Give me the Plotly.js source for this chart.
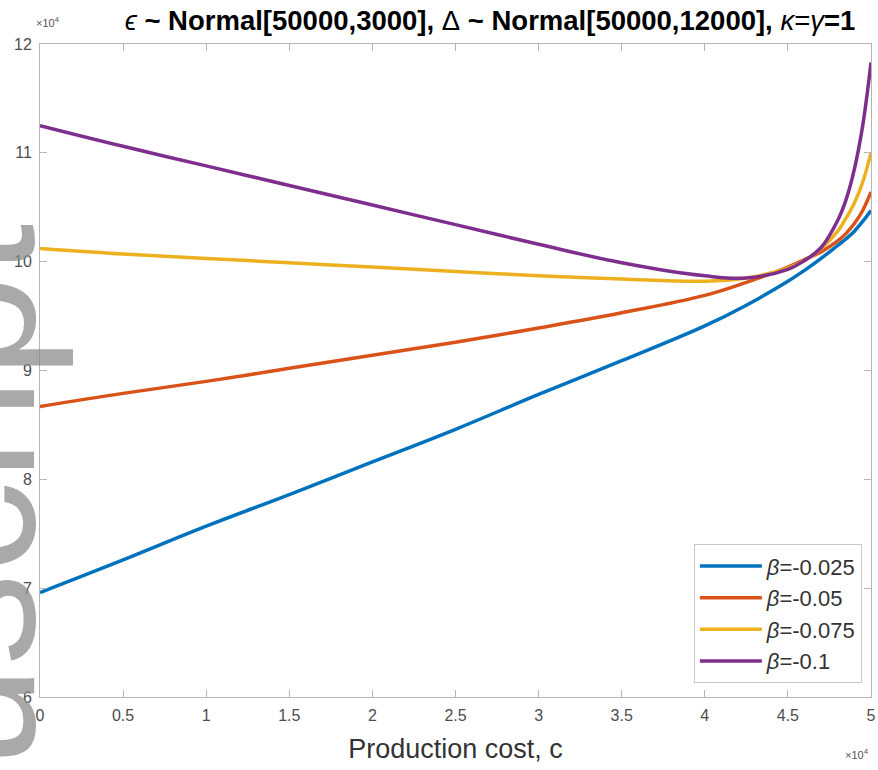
<!DOCTYPE html>
<html>
<head>
<meta charset="utf-8">
<script src="https://cdn.plot.ly/plotly-3.0.1.min.js"></script>
<style>html,body{margin:0;padding:0;background:#fff;}#chart{width:878px;height:770px;}</style>
</head>
<body>
<div id="chart"></div>
<script>
// Production cost c (in units of 10^4)
const cost = [0, 0.5, 1, 1.5, 2, 2.5, 3, 3.5, 4, 4.25, 4.5, 4.6, 4.7, 4.8, 4.85, 4.9, 4.95, 5];
// Values (in units of 10^4)
const beta025 = [6.96, 7.26, 7.57, 7.86, 8.16, 8.46, 8.78, 9.09, 9.41, 9.60, 9.82, 9.92, 10.03, 10.15, 10.21, 10.28, 10.37, 10.47];
const beta050 = [8.67, 8.79, 8.90, 9.02, 9.14, 9.26, 9.39, 9.53, 9.69, 9.81, 9.95, 10.02, 10.09, 10.19, 10.26, 10.35, 10.47, 10.64];
const beta075 = [10.12, 10.07, 10.03, 9.99, 9.95, 9.91, 9.87, 9.84, 9.82, 9.85, 9.94, 10.01, 10.12, 10.28, 10.40, 10.54, 10.73, 11.00];
const beta100 = [11.25, 11.06, 10.88, 10.70, 10.52, 10.34, 10.16, 9.99, 9.87, 9.85, 9.93, 10.01, 10.13, 10.38, 10.57, 10.85, 11.25, 11.83];
const seriesNames = ["<i>β</i>=-0.025", "<i>β</i>=-0.05", "<i>β</i>=-0.075", "<i>β</i>=-0.1"];
const xTickVals = [0, 0.5, 1, 1.5, 2, 2.5, 3, 3.5, 4, 4.5, 5];
const xTickText = ["0", "0.5", "1", "1.5", "2", "2.5", "3", "3.5", "4", "4.5", "5"];
const yTickVals = [6, 7, 8, 9, 10, 11, 12];
const yTickText = ["6", "7", "8", "9", "10", "11", "12"];

const colors = ["#0072BD", "#D95319", "#EDB120", "#7E2F8E"];
const allY = [beta025, beta050, beta075, beta100];
const traces = allY.map((ys, i) => ({
  x: cost, y: ys, type: "scatter", mode: "lines", name: seriesNames[i],
  line: {color: colors[i], width: 3.5, shape: "spline", smoothing: 1.1}
}));

const FONT = "Liberation Sans, Arial, Helvetica, sans-serif";
const axisCommon = {
  showline: true, mirror: "ticks", linecolor: "#b5b5b5", linewidth: 1,
  ticks: "inside", ticklen: 7, tickcolor: "#b5b5b5", tickwidth: 1,
  showgrid: false, zeroline: false,
  tickfont: {family: FONT, size: 16, color: "#4d4d4d"}
};

const layout = {
  width: 878, height: 770,
  margin: {l: 40, r: 7, t: 44, b: 73},
  paper_bgcolor: "#ffffff", plot_bgcolor: "#ffffff",
  showlegend: true,
  title: {
    text: "<span style='font-weight:normal'><i>ϵ</i></span> ~ Normal[50000,3000], <span style='font-weight:normal'>Δ</span> ~ Normal[50000,12000], <span style='font-weight:normal'><i>κ</i>=<i>γ</i></span>=1",
    font: {family: FONT, size: 27.5, color: "#000", weight: "bold"},
    x: 0.5415, xref: "paper", xanchor: "center", y: 0.974, yanchor: "middle"
  },
  xaxis: Object.assign({}, axisCommon, {
    range: [0, 5], tickvals: xTickVals, ticktext: xTickText, ticklabelstandoff: 4,
    title: {text: "Production cost, c", font: {family: FONT, size: 27, color: "#333"}, standoff: 15}
  }),
  yaxis: Object.assign({}, axisCommon, {
    range: [6, 12], tickvals: yTickVals, ticktext: yTickText, ticklabelstandoff: 4
  }),
  legend: {
    x: 0.989, xanchor: "right", y: 0.021, yanchor: "bottom",
    bgcolor: "#ffffff", bordercolor: "#c8c8c8", borderwidth: 1,
    font: {family: FONT, size: 22, color: "#333"},
    itemwidth: 62, tracegroupgap: 0
  },
  annotations: [
    {text: "×10<sup>4</sup>", xref: "paper", yref: "paper", x: 0, y: 1, xanchor: "left", yanchor: "bottom",
     showarrow: false, font: {family: FONT, size: 11, color: "#555"}, yshift: 13, xshift: -6},
    {text: "×10<sup>4</sup>", xref: "paper", yref: "paper", x: 1, y: 0, xanchor: "right", yanchor: "top",
     showarrow: false, font: {family: FONT, size: 11, color: "#555"}, yshift: -48},
    {text: "manuscript", xref: "paper", yref: "paper", x: 0.0421, y: 0.729, xanchor: "right", yanchor: "top",
     textangle: -90, showarrow: false, font: {family: FONT, size: 185, color: "rgba(140,140,140,0.75)"}}
  ]
};

Plotly.newPlot("chart", traces, layout, {displayModeBar: false, staticPlot: true});
</script>
</body>
</html>
